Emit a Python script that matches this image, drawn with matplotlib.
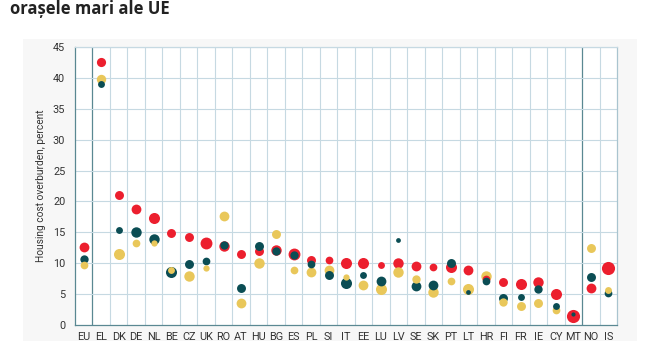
import numpy as np
import matplotlib
matplotlib.use("Agg")
import matplotlib.pyplot as plt

plt.rcParams['font.family'] = ['Roboto', 'DejaVu Sans']

# countries, left to right
countries = ['EU', 'EL', 'DK', 'DE', 'NL', 'BE', 'CZ', 'UK', 'RO', 'AT', 'HU',
             'BG', 'ES', 'PL', 'SI', 'IT', 'EE', 'LU', 'LV', 'SE', 'SK', 'PT',
             'LT', 'HR', 'FI', 'FR', 'IE', 'CY', 'MT', 'NO', 'IS']

# housing cost overburden, percent
red = [12.7, 42.5, 21.1, 18.8, 17.3, 14.9, 14.3, 13.3, 12.8, 11.5, 11.9,
       12.1, 11.5, 10.6, 10.6, 10.1, 10.0, 9.7, 10.1, 9.6, 9.4, 9.4,
       8.9, 7.5, 7.0, 6.6, 6.9, 5.0, 1.5, 6.0, 9.3]
teal = [10.7, 39.0, 15.4, 15.0, 13.9, 8.6, 9.8, 10.4, 12.9, 6.0, 12.8,
        11.9, 11.4, 9.8, 8.1, 6.8, 8.1, 7.1, 13.8, 6.3, 6.4, 10.0,
        5.4, 7.2, 4.4, 4.5, 5.8, 3.1, 1.8, 7.8, 5.2]
yellow = [9.7, 39.8, 11.5, 13.2, 13.3, 8.9, 7.9, 9.3, 17.6, 3.5, 10.0,
          14.8, 8.9, 8.6, 8.9, 7.8, 6.4, 5.9, 8.6, 7.4, 5.3, 7.2,
          5.8, 7.9, 3.8, 3.1, 3.6, 2.4, np.nan, 12.4, 5.7]

# bubble radius (relative)
red_r = [4.7, 4.4, 4.3, 4.7, 5.3, 4.3, 4.3, 5.7, 5.0, 4.3, 4.3,
         5.0, 5.7, 4.3, 3.7, 5.3, 5.3, 3.3, 5.0, 4.7, 3.7, 5.3,
         4.7, 3.7, 4.3, 5.3, 5.0, 5.3, 6.3, 4.7, 6.3]
teal_r = [4.0, 3.3, 3.3, 5.0, 5.0, 5.3, 4.3, 3.7, 4.0, 4.3, 4.3,
          4.0, 4.0, 3.7, 4.3, 5.3, 3.3, 4.7, 2.3, 4.7, 4.7, 4.3,
          2.3, 3.7, 4.3, 3.3, 4.0, 3.3, 2.0, 4.3, 3.7]
yellow_r = [3.7, 4.5, 5.3, 3.7, 3.0, 3.3, 5.0, 3.0, 4.7, 4.7, 5.0,
            4.3, 3.7, 4.7, 4.7, 3.0, 4.7, 5.3, 5.0, 4.0, 5.0, 3.7,
            5.3, 5.0, 4.0, 4.3, 4.3, 3.7, 0.0, 4.3, 3.3]

RED = '#ec1f2e'
TEAL = '#0b4d54'
YELLOW = '#e9c75a'

fig = plt.figure(figsize=(6.5, 3.41), dpi=100)

# light grey panel behind the chart
bg = fig.add_axes([23 / 650, 0, (637 - 23) / 650, 1 - 39 / 341])
bg.set_facecolor('#f7f7f7')
bg.set_xticks([])
bg.set_yticks([])
for sp in bg.spines.values():
    sp.set_visible(False)

fig.text(10 / 650, 1 - 14 / 341, 'orașele mari ale UE', fontsize=12,
         fontweight='bold', color='#222222', ha='left', va='baseline',
         family=['Open Sans', 'DejaVu Sans'])

ax = fig.add_axes([75 / 650, 1 - 325 / 341, 542 / 650, 278 / 341])
ax.set_facecolor('white')

x = np.arange(len(countries))

# draw bigger bubbles first so the small ones stay visible
pts = []
for vals, rad, col in [(red, red_r, RED), (teal, teal_r, TEAL),
                       (yellow, yellow_r, YELLOW)]:
    for xi, v, r in zip(x, vals, rad):
        if not np.isnan(v):
            pts.append((r, xi, v, col))
pts.sort(key=lambda p: -p[0])
for r, xi, v, col in pts:
    ax.scatter(xi, v, s=(1.5 * r) ** 2, color=col, linewidths=0, zorder=3,
               clip_on=False)

ax.set_xlim(-0.5, len(countries) - 0.5)
ax.set_ylim(0, 45)
ax.set_yticks(np.arange(0, 46, 5))
ax.set_xticks(x)
ax.set_xticklabels(countries)

# graph paper grid
for b in np.arange(0.5, len(countries) - 1, 1.0):
    if b in (0.5, 28.5):
        ax.axvline(b, color='#5a8892', lw=0.9, zorder=1)
    else:
        ax.axvline(b, color='#c6d9e2', lw=0.8, zorder=1)
for yv in np.arange(5, 46, 5):
    ax.axhline(yv, color='#c6d9e2', lw=0.8, zorder=1)

ax.spines['top'].set_color('#c6d9e2')
ax.spines['right'].set_color('#a9c4cf')
ax.spines['left'].set_color('#5a8892')
ax.spines['bottom'].set_color('#5a8892')
for sp in ax.spines.values():
    sp.set_linewidth(0.9)

ax.tick_params(axis='both', length=0, labelsize=7.8, colors='#333333')
ax.tick_params(axis='y', pad=7)
ax.tick_params(axis='x', pad=5)
ax.set_ylabel('Housing cost overburden, percent', fontsize=7.3,
              color='#333333', labelpad=5)

fig.savefig('out.png', dpi=100)
